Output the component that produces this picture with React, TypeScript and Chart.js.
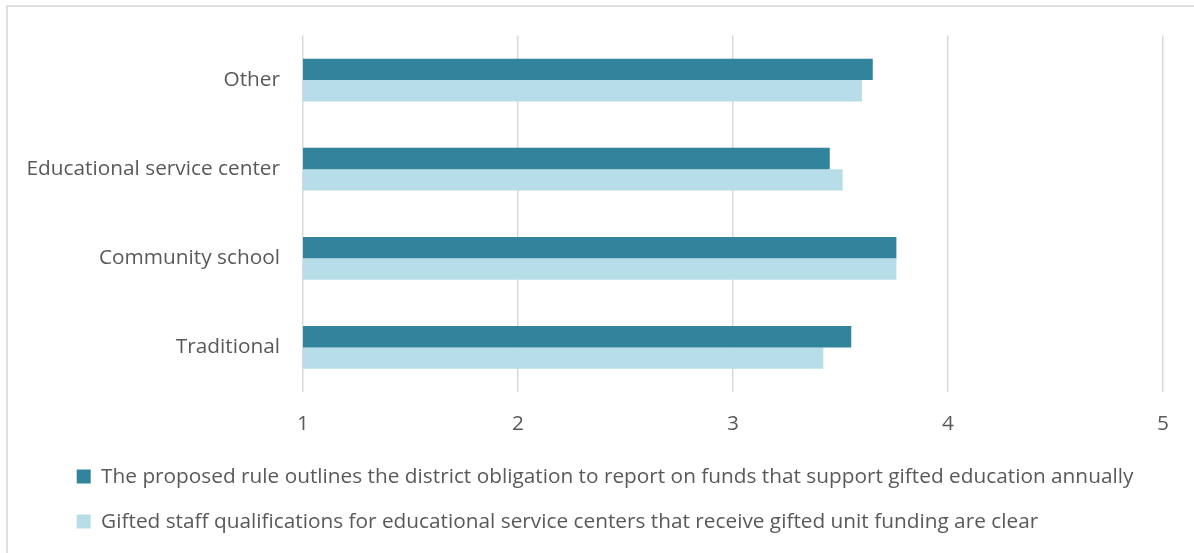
import React, { useEffect, useRef } from "react";
import { Chart, registerables } from "chart.js";

Chart.register(...registerables);

const categories = ["Other", "Educational service center", "Community school", "Traditional"];
const seriesNames = [
  "The proposed rule outlines the district obligation to report on funds that support gifted education annually",
  "Gifted staff qualifications for educational service centers that receive gifted unit funding are clear",
];
const obligationValues = [3.65, 3.45, 3.76, 3.55];
const qualificationValues = [3.6, 3.51, 3.76, 3.42];
const xTicks = [1, 2, 3, 4, 5];

const FONT = "'Open Sans', sans-serif";
const TEXT = "#595959";

const legendShift = {
  id: "legendShift",
  afterLayout(chart: any) {
    if (chart.legend) {
      chart.legend.left = 52.5;
    }
  },
};

export default function App() {
  const ref = useRef<HTMLCanvasElement | null>(null);

  useEffect(() => {
    if (!ref.current) return;
    const chart = new Chart(ref.current, {
      type: "bar",
      data: {
        labels: categories,
        datasets: [
          {
            label: seriesNames[0],
            data: obligationValues,
            backgroundColor: "#31849B",
            borderWidth: 0,
            categoryPercentage: 0.48,
            barPercentage: 1,
          },
          {
            label: seriesNames[1],
            data: qualificationValues,
            backgroundColor: "#B7DEE8",
            borderWidth: 0,
            categoryPercentage: 0.48,
            barPercentage: 1,
          },
        ],
      },
      options: {
        indexAxis: "y",
        responsive: false,
        animation: false,
        layout: { padding: { left: 10, right: 31, top: 35, bottom: 11 } },
        scales: {
          x: {
            min: xTicks[0],
            max: xTicks[xTicks.length - 1],
            afterBuildTicks: (scale: any) => {
              scale.ticks = xTicks.map((v) => ({ value: v }));
            },
            afterFit: (scale: any) => {
              scale.height = 50;
            },
            grid: { color: "#d9d9d9", lineWidth: 1.5, drawTicks: false },
            border: { display: false },
            ticks: {
              color: TEXT,
              font: { family: FONT, size: 20.8 },
              padding: 20,
            },
          },
          y: {
            afterFit: (scale: any) => {
              scale.width = 293;
            },
            grid: { display: false, drawTicks: false },
            border: { display: false },
            ticks: {
              color: TEXT,
              font: { family: FONT, size: 20.8 },
              padding: 23,
            },
          },
        },
        plugins: {
          legend: {
            position: "bottom",
            align: "start",
            labels: {
              color: TEXT,
              font: { family: FONT, size: 20.8 },
              boxWidth: 14,
              boxHeight: 14,
              padding: 24.2,
            },
          },
          tooltip: { enabled: false },
        },
      },
      plugins: [legendShift],
    });
    return () => chart.destroy();
  }, []);

  return (
    <div style={{ position: "fixed", left: 0, top: 0, width: 1194, height: 553, background: "#fff", overflow: "hidden" }}>
      <div
        style={{
          position: "absolute",
          left: 6,
          top: 5,
          width: 1200,
          height: 560,
          borderTop: "2px solid #e0e0e0",
          borderLeft: "2px solid #e0e0e0",
        }}
      />
      <canvas ref={ref} width={1194} height={553} style={{ position: "absolute", left: 0, top: 0, width: 1194, height: 553 }} />
    </div>
  );
}
